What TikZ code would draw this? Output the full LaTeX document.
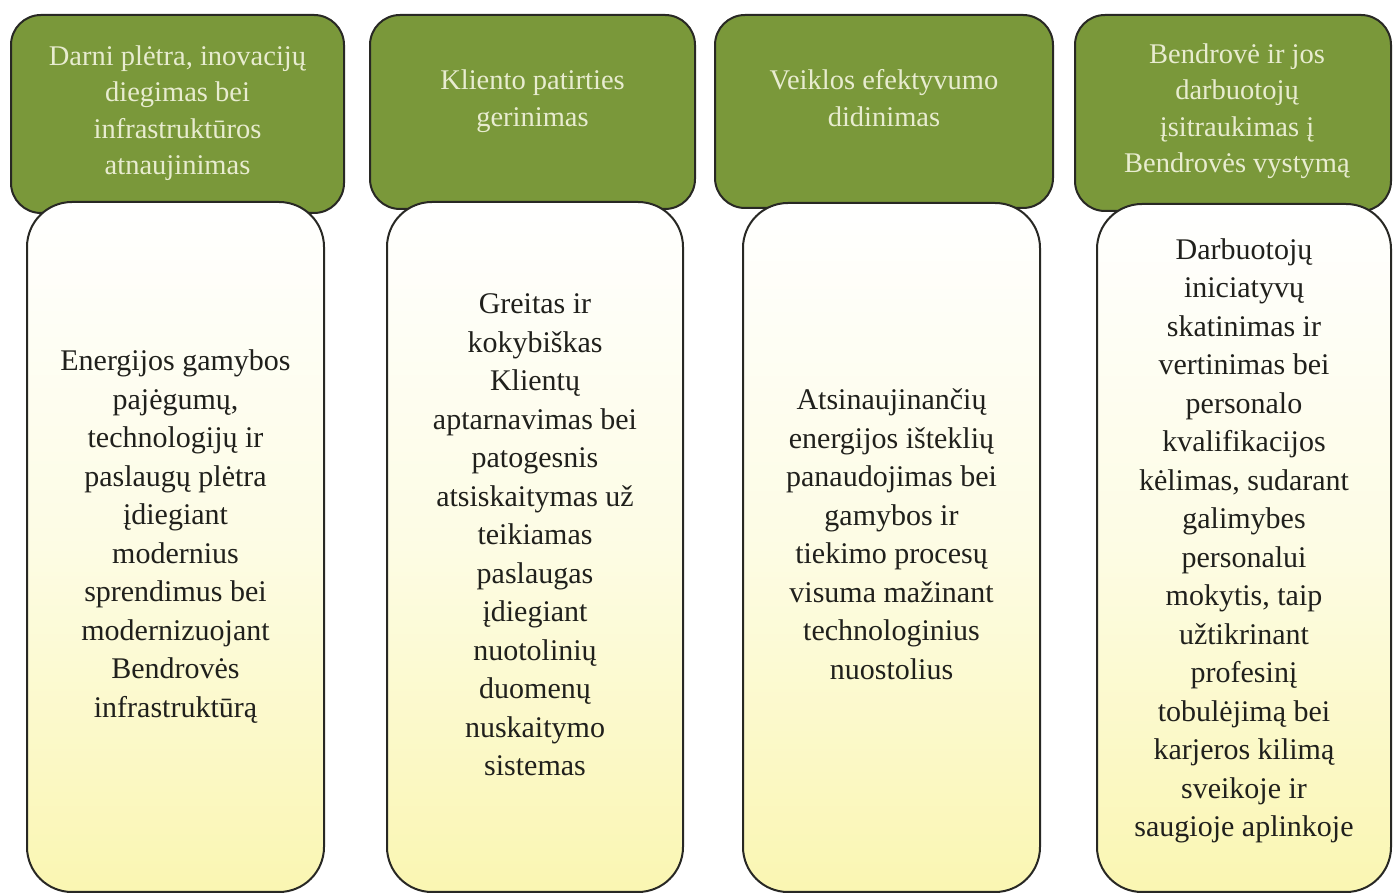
\documentclass[tikz,border=0pt]{standalone}
\usepackage{fontspec}
\setmainfont{Liberation Serif}
\definecolor{hgreen}{RGB}{122,152,58}
\definecolor{htext}{RGB}{232,236,208}
\definecolor{btext}{RGB}{32,32,28}
\definecolor{edge}{RGB}{40,40,36}
\definecolor{ylw}{RGB}{250,246,178}
\definecolor{ylwmid}{RGB}{253,252,228}
\tikzset{
  x=1pt, y=1pt,
  hdrbox/.style={draw=edge, line width=2pt, fill=hgreen, rounded corners=30pt},
  bodybox/.style={draw=edge, line width=2pt, rounded corners=45pt,
    top color=white, bottom color=ylw, middle color=ylwmid},
  hdrtext/.style={text=htext, align=center, inner sep=0pt,
    font=\fontsize{28.5}{36.5}\selectfont},
  bodytext/.style={text=btext, align=center, inner sep=0pt,
    font=\fontsize{30}{38.5}\selectfont},
}
\begin{document}
\begin{tikzpicture}
\useasboundingbox (0,0) rectangle (1393,894);
\fill[white] (0,0) rectangle (1393,894);
% column 1
\draw[hdrbox] (11,879) rectangle (344,681);
\draw[bodybox] (27,692) rectangle (324,2);
\node[hdrtext] (h1) at (177.5,781) {Darni plėtra, inovacijų\\diegimas bei\\infrastruktūros\\atnaujinimas};
\node[bodytext] (b1) at (175.5,357.5) {Energijos gamybos\\pajėgumų,\\technologijų ir\\paslaugų plėtra\\įdiegiant\\modernius\\sprendimus bei\\modernizuojant\\Bendrovės\\infrastruktūrą};
% column 2
\draw[hdrbox] (370,879) rectangle (695,685);
\draw[bodybox] (387,692) rectangle (683,2);
\node[hdrtext] (h2) at (532.5,793) {Kliento patirties\\gerinimas};
\node[bodytext] (b2) at (535,359) {Greitas ir\\kokybiškas\\Klientų\\aptarnavimas bei\\patogesnis\\atsiskaitymas už\\teikiamas\\paslaugas\\įdiegiant\\nuotolinių\\duomenų\\nuskaitymo\\sistemas};
% column 3
\draw[hdrbox] (715,879) rectangle (1053,686);
\draw[bodybox] (743,691) rectangle (1040,2);
\node[hdrtext] (h3) at (884,796) {Veiklos efektyvumo\\didinimas};
\node[bodytext] (b3) at (891.5,360) {Atsinaujinančių\\energijos išteklių\\panaudojimas bei\\gamybos ir\\tiekimo procesų\\visuma mažinant\\technologinius\\nuostolius};
% column 4
\draw[hdrbox] (1075,879) rectangle (1391,683);
\draw[bodybox] (1097,690) rectangle (1391,2);
\node[hdrtext] (h4) at (1237,783) {Bendrovė ir jos\\darbuotojų\\įsitraukimas į\\Bendrovės vystymą};
\node[bodytext] (b4) at (1244,353) {Darbuotojų\\iniciatyvų\\skatinimas ir\\vertinimas bei\\personalo\\kvalifikacijos\\kėlimas, sudarant\\galimybes\\personalui\\mokytis, taip\\užtikrinant\\profesinį\\tobulėjimą bei\\karjeros kilimą\\sveikoje ir\\saugioje aplinkoje};
\end{tikzpicture}
\end{document}
